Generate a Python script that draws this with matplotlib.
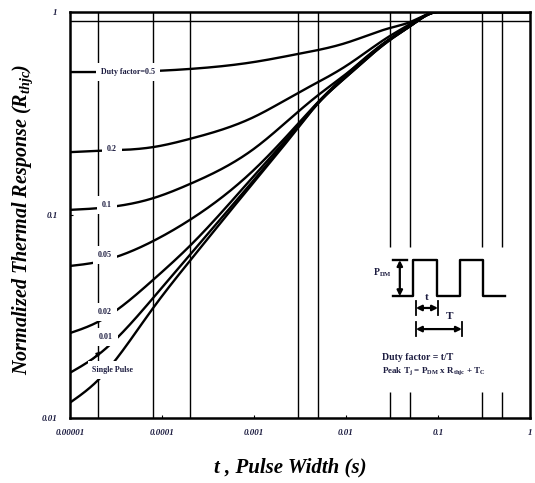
import numpy as np
import matplotlib
matplotlib.use("Agg")
import matplotlib.pyplot as plt

plt.rcParams['font.family'] = ['Liberation Serif', 'DejaVu Serif']
plt.rcParams['mathtext.fontset'] = 'custom'
plt.rcParams['mathtext.rm'] = 'Liberation Serif:bold'
plt.rcParams['mathtext.bf'] = 'Liberation Serif:bold'
plt.rcParams['mathtext.it'] = 'Liberation Serif:italic:bold'

# ---- data ----
t_pts = [1e-5, 2e-5, 8e-5, 2e-4, 1e-3, 3e-3, 5e-3, 1e-2, 3e-2, 5e-2, 1e-1, 1.0]
r_d050 = [0.506, 0.506, 0.512, 0.524, 0.567, 0.621, 0.650, 0.704, 0.834, 0.893, 1.0, 1.0]
r_d020 = [0.204, 0.207, 0.216, 0.237, 0.304, 0.399, 0.452, 0.542, 0.762, 0.873, 1.0, 1.0]
r_d010 = [0.106, 0.108, 0.121, 0.142, 0.212, 0.322, 0.390, 0.495, 0.736, 0.863, 1.0, 1.0]
r_d005 = [0.0561, 0.0587, 0.0744, 0.0945, 0.167, 0.281, 0.361, 0.490, 0.736, 0.853, 1.0, 1.0]
r_d002 = [0.0262, 0.0297, 0.0479, 0.0703, 0.156, 0.275, 0.360, 0.484, 0.736, 0.853, 1.0, 1.0]
r_d001 = [0.0167, 0.0204, 0.039, 0.0635, 0.149, 0.271, 0.356, 0.478, 0.728, 0.853, 1.0, 1.0]
r_single = [0.0119, 0.0153, 0.0348, 0.0593, 0.1455, 0.268, 0.356, 0.478, 0.728, 0.853, 1.0, 1.0]

curve_labels = ["Duty factor=0.5", "0.2", "0.1", "0.05", "0.02", "0.01", "Single Pulse"]
label_t = [4.3e-5, 2.86e-5, 2.53e-5, 2.4e-5, 2.4e-5, 2.46e-5, 2.93e-5]
label_r = [0.506, 0.2115, 0.112, 0.0635, 0.0333, 0.0251, 0.0172]

grid_full = [2e-5, 8e-5, 2e-4, 3e-3, 5e-3]
grid_broken = [3e-2, 5e-2, 0.3, 0.5]
hline_r = 0.9

x_ticks = [1e-5, 1e-4, 1e-3, 1e-2, 1e-1, 1]
x_ticklabels = ["0.00001", "0.0001", "0.001", "0.01", "0.1", "1"]
y_ticks = [0.01, 0.1, 1]
y_ticklabels = ["0.01", "0.1", "1"]


def smooth_curve(x, y, xn):
    """Cubic spline (natural start, zero slope where the curve reaches its plateau),
    then the flat tail drawn straight."""
    x = np.asarray(x, float); y = np.asarray(y, float)
    n = int(np.argmax(y >= y.max() - 1e-12))  # first plateau index
    xs, ys = x[:n + 1], y[:n + 1]
    h = np.diff(xs); d = np.diff(ys) / h
    N = len(xs)
    A = np.zeros((N, N)); b = np.zeros(N)
    A[0, 0] = 1.0
    for i in range(1, N - 1):
        A[i, i - 1] = h[i - 1]; A[i, i] = 2 * (h[i - 1] + h[i]); A[i, i + 1] = h[i]
        b[i] = 6 * (d[i] - d[i - 1])
    A[N - 1, N - 2] = h[-1]; A[N - 1, N - 1] = 2 * h[-1]
    b[N - 1] = 6 * (0.0 - d[-1])
    M = np.linalg.solve(A, b)
    out = np.interp(xn, x, y)
    sel = xn <= xs[-1]
    xx = xn[sel]
    i = np.clip(np.searchsorted(xs, xx) - 1, 0, N - 2)
    hi = h[i]
    out[sel] = (M[i] * (xs[i + 1] - xx) ** 3 / (6 * hi) + M[i + 1] * (xx - xs[i]) ** 3 / (6 * hi)
                + (ys[i] / hi - M[i] * hi / 6) * (xs[i + 1] - xx)
                + (ys[i + 1] / hi - M[i + 1] * hi / 6) * (xx - xs[i]))
    return out


fig = plt.figure(figsize=(5.35, 4.83), dpi=100)
ax = fig.add_axes([70 / 535, 65 / 483, 460 / 535, 406 / 483])
ax.set_xscale('log'); ax.set_yscale('log')
ax.set_xlim(1e-5, 1); ax.set_ylim(0.01, 1)

# grid lines
for g in grid_full:
    ax.axvline(g, color='black', lw=1.0, zorder=1)
for g in grid_broken:
    ax.vlines(g, 0.01, 0.0134, color='black', lw=1.0, zorder=1)
    ax.vlines(g, 0.0696, 1, color='black', lw=1.0, zorder=1)
ax.axhline(hline_r, color='black', lw=1.0, zorder=1)

# curves
lt = np.log10(t_pts)
tn = np.linspace(lt[0], lt[-1], 800)
for r in [r_d050, r_d020, r_d010, r_d005, r_d002, r_d001, r_single]:
    rn = smooth_curve(lt, np.log10(r), tn)
    ax.plot(10 ** tn, 10 ** rn, color='black', lw=1.7, zorder=2, solid_capstyle='butt')

# curve labels
for lab, tx, ry in zip(curve_labels, label_t, label_r):
    ax.text(tx, ry, lab, fontsize=5.8, fontweight='bold', color='#1c1c40',
            ha='center', va='center', zorder=4,
            bbox=dict(facecolor='white', edgecolor='none', pad=3.5))
ax.annotate('', xy=(2.17e-5, 0.0213), xytext=(1.78e-5, 0.0196),
            arrowprops=dict(arrowstyle='-|>', color='black', lw=1.2,
                            mutation_scale=6, shrinkA=0, shrinkB=0), zorder=5)

# inset pulse diagram (axes fraction coordinates)
tr = ax.transAxes
px = [0.702, 0.746, 0.746, 0.798, 0.798, 0.848, 0.848, 0.898, 0.898, 0.946]
py = [0.300, 0.300, 0.389, 0.389, 0.300, 0.300, 0.389, 0.389, 0.300, 0.300]
ax.plot(px, py, color='black', lw=1.7, transform=tr, zorder=3)
ax.plot([0.702, 0.732], [0.389, 0.389], color='black', lw=1.7, transform=tr, zorder=3)
ap = dict(arrowstyle='<|-|>', color='black', lw=1.6, mutation_scale=8, shrinkA=0, shrinkB=0)
ax.annotate('', xy=(0.717, 0.389), xytext=(0.717, 0.300), xycoords=tr, textcoords=tr, arrowprops=ap)
ax.annotate('', xy=(0.752, 0.271), xytext=(0.800, 0.271), xycoords=tr, textcoords=tr, arrowprops=ap)
ax.annotate('', xy=(0.752, 0.219), xytext=(0.852, 0.219), xycoords=tr, textcoords=tr, arrowprops=ap)
for xb, yb in [(0.752, 0.271), (0.800, 0.271), (0.752, 0.219), (0.852, 0.219)]:
    ax.plot([xb, xb], [yb - 0.018, yb + 0.018], color='black', lw=1.3, transform=tr, zorder=3)
ax.text(0.700, 0.357, r'P$_{\mathrm{DM}}$', transform=tr, fontsize=7, fontweight='bold',
        ha='right', va='center', color='#1c1c40')
ax.text(0.776, 0.297, 't', transform=tr, fontsize=8, fontweight='bold',
        ha='center', va='center', color='#1c1c40')
ax.text(0.825, 0.249, 'T', transform=tr, fontsize=8, fontweight='bold',
        ha='center', va='center', color='#1c1c40')
ax.text(0.678, 0.150, 'Duty factor = t/T', transform=tr, fontsize=7, fontweight='bold',
        ha='left', va='center', color='#1c1c40')
ax.text(0.678, 0.116, r'Peak T$_{\mathrm{j}}$ = P$_{\mathrm{DM}}$ x R$_{\mathrm{thjc}}$ + T$_{\mathrm{C}}$',
        transform=tr, fontsize=6.5, fontweight='bold', ha='left', va='center', color='#1c1c40')

# axes styling
for s in ax.spines.values():
    s.set_linewidth(1.8)
ax.set_xticks(x_ticks)
ax.set_xticklabels(x_ticklabels)
ax.set_yticks(y_ticks)
ax.set_yticklabels(y_ticklabels)
ax.minorticks_off()
ax.tick_params(axis='both', direction='in', length=2.5, width=0.8, labelsize=6.5,
               labelcolor='#1c1c40')
ax.tick_params(axis='x', pad=8)
ax.tick_params(axis='y', pad=9)
for lbl in ax.get_xticklabels() + ax.get_yticklabels():
    lbl.set_fontweight('bold'); lbl.set_fontstyle('italic')

ax.set_xlabel('t , Pulse Width (s)', fontsize=15, fontweight='bold', fontstyle='italic')
ax.xaxis.set_label_coords(0.478, -0.098)
ax.set_ylabel(r'Normalized Thermal Response (R$_{\mathit{thjc}}$)', fontsize=14.5,
              fontweight='bold', fontstyle='italic')
ax.yaxis.set_label_coords(-0.075, 0.49)

fig.savefig('out.png', dpi=100)
